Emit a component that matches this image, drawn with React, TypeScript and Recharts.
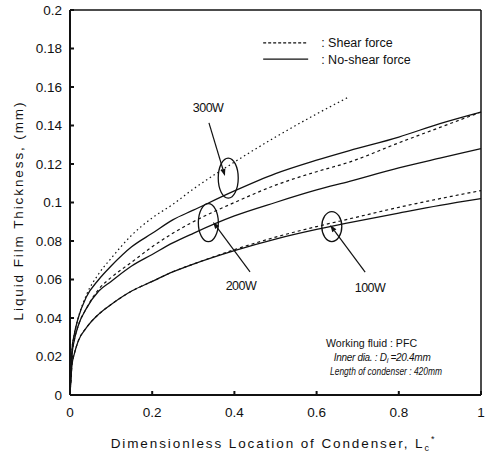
import { LineChart, Line, XAxis, YAxis, ReferenceLine, ReferenceDot } from "recharts";

// dimensionless location along the condenser
const positions = [0, 0.005, 0.01, 0.02, 0.04, 0.07, 0.1, 0.15, 0.2, 0.25, 0.3, 0.4, 0.5, 0.6, 0.68, 0.8, 0.9, 1];

// film thickness (mm)
const noShear100 = [0, 0.016, 0.021, 0.028, 0.035, 0.042, 0.047, 0.054, 0.059, 0.064, 0.068, 0.075, 0.081, 0.086, 0.0895, 0.0945, 0.0985, 0.102];
const shear100 = [0, 0.016, 0.021, 0.028, 0.035, 0.042, 0.047, 0.054, 0.059, 0.064, 0.068, 0.0755, 0.082, 0.0875, 0.0915, 0.0975, 0.102, 0.1062];
const noShear200 = [0, 0.021, 0.028, 0.036, 0.045, 0.054, 0.059, 0.067, 0.073, 0.079, 0.084, 0.093, 0.1, 0.1065, 0.111, 0.118, 0.123, 0.128];
const shear200 = [0, 0.021, 0.028, 0.036, 0.045, 0.055, 0.061, 0.069, 0.077, 0.084, 0.09, 0.1, 0.109, 0.116, 0.121, 0.131, 0.139, 0.147];
const noShear300 = [0, 0.024, 0.031, 0.04, 0.051, 0.06, 0.067, 0.077, 0.084, 0.091, 0.096, 0.106, 0.115, 0.122, 0.127, 0.134, 0.141, 0.147];
const shear300 = [0, 0.024, 0.031, 0.04, 0.052, 0.063, 0.071, 0.083, 0.092, 0.099, 0.107, 0.121, 0.134, 0.146, 0.155, null, null, null];

const xTicks = [0, 0.2, 0.4, 0.6, 0.8, 1];
const yTicks = [0, 0.02, 0.04, 0.06, 0.08, 0.1, 0.12, 0.14, 0.16, 0.18, 0.2];

const rows = positions.map((x, i) => ({
  x,
  no100: noShear100[i],
  sh100: shear100[i],
  no200: noShear200[i],
  sh200: shear200[i],
  no300: noShear300[i],
  sh300: shear300[i],
}));

const ink = "#111";
const font = "'Liberation Sans', Arial, sans-serif";

const arrow = (dx: number, dy: number) => (p: any) => {
  const { cx, cy } = p;
  const tx = cx + dx;
  const ty = cy + dy;
  const a = Math.atan2(cy - ty, cx - tx);
  const bx = cx - 7 * Math.cos(a);
  const by = cy - 7 * Math.sin(a);
  const px = -Math.sin(a) * 2.5;
  const py = Math.cos(a) * 2.5;
  return (
    <g>
      <line x1={tx} y1={ty} x2={bx} y2={by} stroke={ink} strokeWidth={1.2} />
      <polygon points={`${cx},${cy} ${bx + px},${by + py} ${bx - px},${by - py}`} fill={ink} />
    </g>
  );
};

const ellipse = (rx: number, ry: number) => (p: any) => (
  <ellipse cx={p.cx} cy={p.cy} rx={rx} ry={ry} fill="none" stroke={ink} strokeWidth={1.3} />
);

const label = (txt: string) => (p: any) => (
  <text x={p.cx} y={p.cy + 4.5} textAnchor="middle" fontFamily={font} fontSize={12.5} letterSpacing={-0.5} fill={ink}>
    {txt}
  </text>
);

const legendRow = (dash: string | undefined, txt: string) => (p: any) => (
  <g>
    <line x1={p.cx} y1={p.cy} x2={p.cx + 45} y2={p.cy} stroke={ink} strokeWidth={1.2} strokeDasharray={dash} />
    <text x={p.cx + 58} y={p.cy + 4.5} fontFamily={font} fontSize={12.5} fill={ink}>
      {txt}
    </text>
  </g>
);

const infoBox = (p: any) => (
  <g fontFamily={font} fontSize={10.5} fill={ink}>
    <text x={p.cx} y={p.cy + 3.5} textLength={91} lengthAdjust="spacingAndGlyphs">Working fluid : PFC</text>
    <text x={p.cx + 56} y={p.cy + 17.5} textAnchor="middle" fontStyle="italic" fontSize={10} letterSpacing={-0.3}>
      Inner dia. : D<tspan fontSize={7.5} dy={2}>i</tspan><tspan dy={-2}> =20.4mm</tspan>
    </text>
    <text x={p.cx + 4} y={p.cy + 32} fontStyle="italic" textLength={112} lengthAdjust="spacingAndGlyphs">Length of condenser : 420mm</text>
  </g>
);

const XTitle = (props: any) => {
  const vb = props.viewBox;
  return (
    <text x={vb.x + vb.width / 2 - 2} y={vb.y + 53} textAnchor="middle" fontFamily={font} fontSize={13.5} letterSpacing={1.9} fill={ink}>
      Dimensionless Location of Condenser, L<tspan fontSize={9} dy={3}>c</tspan>
      <tspan fontSize={9} dy={-9}>*</tspan>
    </text>
  );
};

const YTitle = (props: any) => {
  const vb = props.viewBox;
  const cx = vb.x + 18;
  const cy = vb.y + vb.height / 2 + 8;
  return (
    <text x={cx} y={cy} transform={`rotate(-90 ${cx} ${cy})`} textAnchor="middle" dominantBaseline="central" fontFamily={font} fontSize={13.5} letterSpacing={1.9} fill={ink}>
      Liquid Film Thickness, (mm)
    </text>
  );
};

export default function App() {
  return (
    <div style={{ position: "absolute", left: 0, top: 0, background: "#fff" }}>
      <LineChart width={485} height={455} data={rows} margin={{ top: 10, right: 4, left: 0, bottom: 0 }}>
        <XAxis
          dataKey="x"
          type="number"
          domain={[0, 1]}
          ticks={xTicks}
          tickFormatter={(v: number) => String(+v.toFixed(1))}
          height={60}
          tickSize={-4}
          tickMargin={16}
          stroke={ink}
          strokeWidth={2}
          tick={{ fill: ink, fontSize: 13.5, fontFamily: font }}
          label={{ content: XTitle }}
        />
        <YAxis
          type="number"
          domain={[0, 0.2]}
          ticks={yTicks}
          tickFormatter={(v: number) => String(+v.toFixed(2))}
          width={70}
          tickSize={-4}
          tickMargin={12}
          stroke={ink}
          strokeWidth={2}
          tick={{ fill: ink, fontSize: 13.5, fontFamily: font }}
          label={{ content: YTitle }}
        />
        <ReferenceLine y={0.2} stroke={ink} strokeWidth={1.5} />
        <ReferenceLine x={1} stroke={ink} strokeWidth={1.5} />

        <Line type="monotone" dataKey="no100" stroke={ink} strokeWidth={1.3} dot={false} isAnimationActive={false} />
        <Line type="monotone" dataKey="sh100" stroke={ink} strokeWidth={1.2} strokeDasharray="3 3" dot={false} isAnimationActive={false} />
        <Line type="monotone" dataKey="no200" stroke={ink} strokeWidth={1.3} dot={false} isAnimationActive={false} />
        <Line type="monotone" dataKey="sh200" stroke={ink} strokeWidth={1.2} strokeDasharray="3 3" dot={false} isAnimationActive={false} />
        <Line type="monotone" dataKey="no300" stroke={ink} strokeWidth={1.3} dot={false} isAnimationActive={false} />
        <Line type="monotone" dataKey="sh300" stroke={ink} strokeWidth={1.2} strokeDasharray="1.5 3" dot={false} isAnimationActive={false} />

        <ReferenceDot x={0.385} y={0.1127} r={1} shape={ellipse(10, 20)} />
        <ReferenceDot x={0.3366} y={0.0895} r={1} shape={ellipse(10, 19)} />
        <ReferenceDot x={0.637} y={0.0875} r={1} shape={ellipse(10, 15)} />

        <ReferenceDot x={0.377} y={0.1138} r={1} shape={arrow(-16, -53)} />
        <ReferenceDot x={0.348} y={0.0899} r={1} shape={arrow(37, 50)} />
        <ReferenceDot x={0.633} y={0.0883} r={1} shape={arrow(35, 47)} />

        <ReferenceDot x={0.336} y={0.1496} r={1} shape={label("300W")} />
        <ReferenceDot x={0.416} y={0.0571} r={1} shape={label("200W")} />
        <ReferenceDot x={0.73} y={0.0556} r={1} shape={label("100W")} />

        <ReferenceDot x={0.47} y={0.1829} r={1} shape={legendRow("3 2", ": Shear force")} />
        <ReferenceDot x={0.47} y={0.1745} r={1} shape={legendRow(undefined, ": No-shear force")} />

        <ReferenceDot x={0.623} y={0.027} r={1} shape={infoBox} />
      </LineChart>
    </div>
  );
}
